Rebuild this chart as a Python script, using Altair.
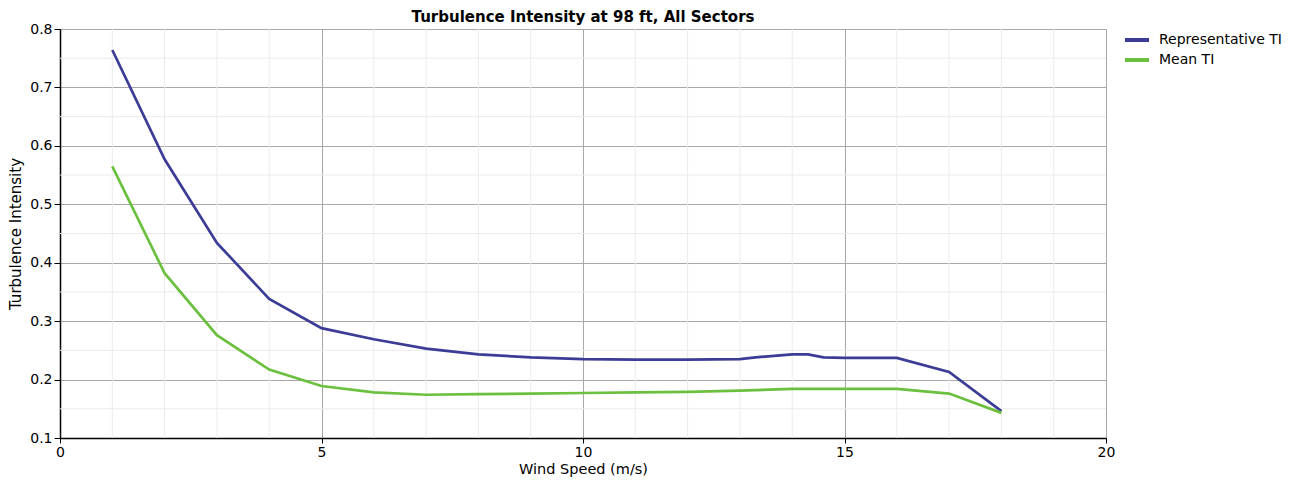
import altair as alt
import pandas as pd

# Data
wind_speed = [1, 2, 3, 4, 5, 6, 7, 8, 9, 10, 11, 12, 13, 13.3, 14, 14.3, 14.6, 15, 16, 17, 18]
rep_ti = [0.764, 0.577, 0.434, 0.338, 0.288, 0.269, 0.253, 0.243, 0.238, 0.235, 0.234, 0.234, 0.235,
          0.238, 0.243, 0.243, 0.238, 0.237, 0.237, 0.213, 0.146]
mean_ti = [0.565, 0.382, 0.276, 0.217, 0.189, 0.178, 0.174, 0.175, 0.176, 0.177, 0.178, 0.179, 0.181,
           0.182, 0.184, 0.184, 0.184, 0.184, 0.184, 0.176, 0.143]
series_names = ["Representative TI", "Mean TI"]
series_colors = ["#3c3c96", "#6cc040"]

x_major = [0, 5, 10, 15, 20]
y_major = [0.1, 0.2, 0.3, 0.4, 0.5, 0.6, 0.7, 0.8]
x_minor = [1, 2, 3, 4, 6, 7, 8, 9, 11, 12, 13, 14, 16, 17, 18, 19]
y_minor = [0.15, 0.25, 0.35, 0.45, 0.55, 0.65, 0.75]

rows = []
for i, ws in enumerate(wind_speed):
    rows.append({"ws": ws, "ti": rep_ti[i], "series": series_names[0]})
    rows.append({"ws": ws, "ti": mean_ti[i], "series": series_names[1]})
df = pd.DataFrame(rows)

FONT = "DejaVu Sans"
xscale = alt.Scale(domain=[0, 20], nice=False, zero=False)
yscale = alt.Scale(domain=[0.1, 0.8], nice=False, zero=False)

vgrid = alt.Chart(pd.DataFrame({"v": x_minor})).mark_rule(color="#ebebeb", strokeWidth=1).encode(
    x=alt.X("v:Q", scale=xscale)
)
hgrid = alt.Chart(pd.DataFrame({"v": y_minor})).mark_rule(color="#ebebeb", strokeWidth=1).encode(
    y=alt.Y("v:Q", scale=yscale)
)

lines = alt.Chart(df).mark_line(strokeWidth=2.7, interpolate="linear").encode(
    x=alt.X("ws:Q", scale=xscale,
            axis=alt.Axis(title="Wind Speed (m/s)", values=x_major, grid=True, gridColor="#a8a8a8",
                          gridWidth=1, domainColor="#000000", domainWidth=1.5, tickColor="#000000",
                          tickSize=5, labelFontSize=14, labelFont=FONT, labelColor="#000000",
                          titleFont=FONT, titleFontSize=14.5, titleFontWeight="normal",
                          titleColor="#000000", titlePadding=3, labelPadding=2, labelFlush=False)),
    y=alt.Y("ti:Q", scale=yscale,
            axis=alt.Axis(title="Turbulence Intensity", values=y_major, format=".1f", grid=True,
                          gridColor="#a8a8a8", gridWidth=1, domainColor="#000000", domainWidth=1.5,
                          tickColor="#000000", tickSize=6, labelFontSize=14, labelFont=FONT,
                          labelColor="#000000", titleFont=FONT, titleFontSize=15,
                          titleFontWeight="normal", titleColor="#000000", titlePadding=6,
                          labelPadding=2, labelFlush=False)),
    color=alt.Color("series:N", scale=alt.Scale(domain=series_names, range=series_colors),
                    legend=alt.Legend(title=None, orient="right", offset=13, symbolType="stroke",
                                      symbolSize=576, symbolStrokeWidth=4, labelFontSize=14,
                                      labelFont=FONT, labelColor="#000000", rowPadding=6,
                                      clipHeight=14, labelOffset=8, padding=4)),
    order=alt.Order("ws:Q"),
)

chart = alt.layer(vgrid, hgrid, lines).properties(
    width=1046, height=409,
    title=alt.TitleParams("Turbulence Intensity at 98 ft, All Sectors", font=FONT, fontSize=15,
                          fontWeight="bold", color="#000000", anchor="middle", offset=4, dy=7),
    autosize=alt.AutoSizeParams(type="none"),
    padding={"left": 52, "top": 21, "right": 180, "bottom": 40},
).configure_view(stroke="#000000", strokeWidth=1.5).configure(background="#ffffff")

chart.save("out.html", embed_options={"renderer": "svg", "actions": False})
